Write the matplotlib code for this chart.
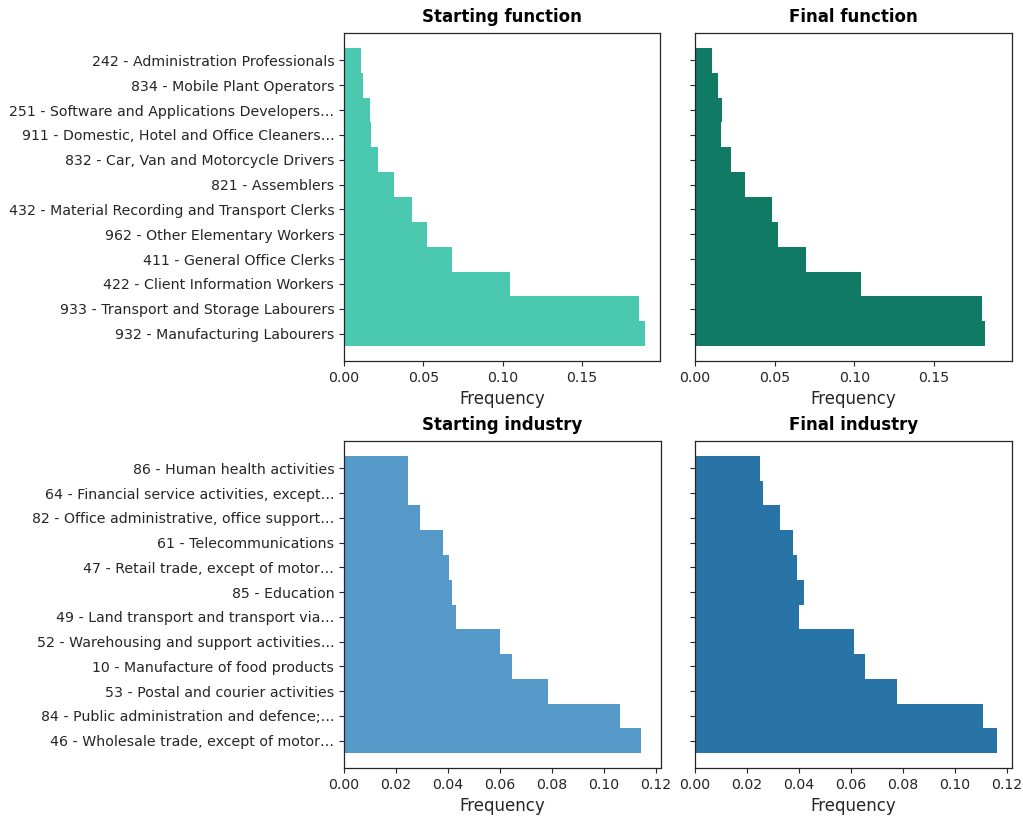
import matplotlib
matplotlib.use("Agg")
import matplotlib.pyplot as plt

function_labels = [
    "242 - Administration Professionals",
    "834 - Mobile Plant Operators",
    "251 - Software and Applications Developers…",
    "911 - Domestic, Hotel and Office Cleaners…",
    "832 - Car, Van and Motorcycle Drivers",
    "821 - Assemblers",
    "432 - Material Recording and Transport Clerks",
    "962 - Other Elementary Workers",
    "411 - General Office Clerks",
    "422 - Client Information Workers",
    "933 - Transport and Storage Labourers",
    "932 - Manufacturing Labourers",
]
start_function = [0.0106, 0.0117, 0.0161, 0.0172, 0.0216, 0.0313, 0.0431, 0.0521,
                  0.0681, 0.1045, 0.1858, 0.1896]
final_function = [0.0109, 0.0145, 0.0172, 0.0164, 0.0224, 0.0313, 0.0483, 0.0520,
                  0.0696, 0.1045, 0.1802, 0.1819]

industry_labels = [
    "86 - Human health activities",
    "64 - Financial service activities, except…",
    "82 - Office administrative, office support…",
    "61 - Telecommunications",
    "47 - Retail trade, except of motor…",
    "85 - Education",
    "49 - Land transport and transport via…",
    "52 - Warehousing and support activities…",
    "10 - Manufacture of food products",
    "53 - Postal and courier activities",
    "84 - Public administration and defence;…",
    "46 - Wholesale trade, except of motor…",
]
start_industry = [0.0246, 0.0246, 0.0294, 0.0383, 0.0405, 0.0415, 0.0431, 0.0600,
                  0.0649, 0.0785, 0.1064, 0.1145]
final_industry = [0.0251, 0.0262, 0.0327, 0.0377, 0.0393, 0.0421, 0.0399, 0.0612,
                  0.0656, 0.0777, 0.1109, 0.1163]

titles = ["Starting function", "Final function", "Starting industry", "Final industry"]
colors = ["#4AC9B0", "#117A65", "#5499C7", "#2874A6"]

W, H = 1023, 819
fig = plt.figure(figsize=(W / 100, H / 100), dpi=100)

def rect(x0, y0, x1, y1):
    return [x0 / W, 1 - y1 / H, (x1 - x0) / W, (y1 - y0) / H]

rects = [rect(344, 33, 660, 361), rect(695, 33, 1012, 361),
         rect(344, 441, 661, 768), rect(695, 441, 1012, 768)]
data = [(function_labels, start_function), (function_labels, final_function),
        (industry_labels, start_industry), (industry_labels, final_industry)]

text_color = "#262626"
axes = []
for i, (r, (labels, vals)) in enumerate(zip(rects, data)):
    ax = fig.add_axes(r)
    axes.append(ax)
    ypos = list(range(len(labels)))
    ax.barh(ypos, vals, height=1.0, color=colors[i], linewidth=0)
    ax.invert_yaxis()
    ax.set_yticks(ypos)
    if i % 2 == 0:
        ax.set_yticklabels(labels, fontsize=10.2, color=text_color)
    else:
        ax.set_yticklabels([])
    ax.set_title(titles[i], fontsize=12, fontweight="bold", color="black", pad=8)
    ax.set_xlabel("Frequency", fontsize=12, color=text_color)
    ax.tick_params(axis="x", labelsize=10.2, labelcolor=text_color, color=text_color)
    ax.tick_params(axis="y", color=text_color)
    for s in ax.spines.values():
        s.set_color(text_color)
        s.set_linewidth(0.9)

for a, b in [(0, 1), (2, 3)]:
    m = max(max(data[a][1]), max(data[b][1])) * 1.05
    axes[a].set_xlim(0, m)
    axes[b].set_xlim(0, m)

axes[0].set_xticks([0, 0.05, 0.10, 0.15])
axes[1].set_xticks([0, 0.05, 0.10, 0.15])
axes[2].set_xticks([0, 0.02, 0.04, 0.06, 0.08, 0.10, 0.12])
axes[3].set_xticks([0, 0.02, 0.04, 0.06, 0.08, 0.10, 0.12])

fig.savefig("out.png", dpi=100)
